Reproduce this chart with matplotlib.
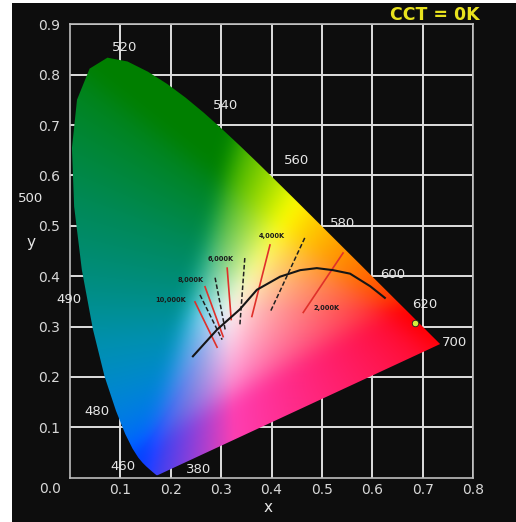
import numpy as np
import matplotlib
matplotlib.use("Agg")
import matplotlib.pyplot as plt
from matplotlib.patches import Polygon, Rectangle

# CIE 1931 spectral locus (nm, x, y)
wl = [380, 420, 440, 450, 455, 460, 465, 470, 475, 480, 485, 490, 495, 500, 505, 510, 515, 520,
      525, 530, 535, 540, 545, 550, 555, 560, 565, 570, 575, 580, 585, 590, 595, 600, 605, 610,
      615, 620, 625, 630, 640, 650, 660, 680, 700]
loc_x = [0.1741, 0.1714, 0.1644, 0.1566, 0.1510, 0.1440, 0.1355, 0.1241, 0.1096, 0.0913, 0.0687,
         0.0454, 0.0235, 0.0082, 0.0039, 0.0139, 0.0389, 0.0743, 0.1142, 0.1547, 0.1929, 0.2296,
         0.2658, 0.3016, 0.3373, 0.3731, 0.4087, 0.4441, 0.4788, 0.5125, 0.5448, 0.5752, 0.6029,
         0.6270, 0.6482, 0.6658, 0.6801, 0.6915, 0.7006, 0.7079, 0.7190, 0.7260, 0.7300, 0.7334,
         0.7347]
loc_y = [0.0050, 0.0051, 0.0109, 0.0177, 0.0227, 0.0297, 0.0399, 0.0578, 0.0868, 0.1327, 0.2007,
         0.2950, 0.4127, 0.5384, 0.6548, 0.7502, 0.8120, 0.8338, 0.8262, 0.8059, 0.7816, 0.7543,
         0.7243, 0.6923, 0.6589, 0.6245, 0.5896, 0.5547, 0.5202, 0.4866, 0.4544, 0.4242, 0.3965,
         0.3725, 0.3514, 0.3340, 0.3197, 0.3083, 0.2993, 0.2920, 0.2809, 0.2740, 0.2700, 0.2666,
         0.2653]

# wavelength labels (text, x, y)
wl_labels = ["520", "540", "560", "580", "600", "620", "700", "500", "490", "480", "460", "380"]
wl_lx = [0.109, 0.308, 0.450, 0.542, 0.641, 0.705, 0.764, -0.079, -0.003, 0.054, 0.105, 0.256]
wl_ly = [0.853, 0.738, 0.630, 0.505, 0.403, 0.343, 0.268, 0.555, 0.353, 0.132, 0.022, 0.016]

# Planckian locus
pl_x = [0.244, 0.292, 0.337, 0.371, 0.417, 0.457, 0.490, 0.522, 0.556, 0.596, 0.625]
pl_y = [0.241, 0.294, 0.334, 0.373, 0.399, 0.412, 0.416, 0.412, 0.405, 0.380, 0.357]

# iso-temperature segments: x0, y0, x1, y1
iso_red = [(0.248, 0.349, 0.292, 0.259), (0.268, 0.379, 0.304, 0.280), (0.312, 0.416, 0.320, 0.314),
           (0.397, 0.462, 0.361, 0.320), (0.542, 0.446, 0.463, 0.328)]
iso_blk = [(0.258, 0.363, 0.302, 0.274), (0.288, 0.397, 0.308, 0.294), (0.347, 0.436, 0.337, 0.300),
           (0.466, 0.476, 0.397, 0.328)]

cct_labels = ["10,000K", "8,000K", "6,000K", "4,000K", "2,000K"]
cct_x = [0.200, 0.240, 0.300, 0.400, 0.510]
cct_y = [0.353, 0.393, 0.434, 0.480, 0.337]

point_x, point_y = [0.684], [0.308]

xticks = [0.1, 0.2, 0.3, 0.4, 0.5, 0.6, 0.7, 0.8]
yticks = [0.1, 0.2, 0.3, 0.4, 0.5, 0.6, 0.7, 0.8, 0.9]


def box_blur(a, r, axis):
    pad = [(0, 0)] * a.ndim
    pad[axis] = (r + 1, r)
    p = np.pad(a, pad, mode="edge")
    c = np.cumsum(p, axis=axis)
    n = a.shape[axis]
    hi = np.take(c, np.arange(2 * r + 1, 2 * r + 1 + n), axis=axis)
    lo = np.take(c, np.arange(0, n), axis=axis)
    return (hi - lo) / (2 * r + 1)


W, H = 516, 522
fig = plt.figure(figsize=(W / 100, H / 100), dpi=100, facecolor="white")
fig.patches.append(Rectangle((12 / W, 0), 1 - 12 / W, 1 - 3 / H, transform=fig.transFigure,
                             facecolor="#0d0d0d", edgecolor="none", zorder=-10))

ax = fig.add_axes([70 / W, 1 - 479 / H, 403 / W, 456 / H])
ax.set_facecolor("#0d0d0d")
ax.set_xlim(0, 0.8)
ax.set_ylim(0, 0.9)
ax.set_xticks(xticks)
ax.set_yticks(yticks)
ax.set_xticklabels([f"{v:.1f}" for v in xticks])
ax.set_yticklabels([f"{v:.1f}" for v in yticks])
ax.tick_params(length=0, colors="#d8d8d8", labelsize=10, pad=4)
ax.tick_params(axis="y", pad=7)
ax.grid(True, color="#dedede", lw=1.4)
ax.set_axisbelow(True)
for s in ax.spines.values():
    s.set_color("#bdbdbd")
    s.set_linewidth(1.2)
ax.text(-0.04, -0.022, "0.0", color="#d8d8d8", fontsize=10, ha="center", va="center",
        clip_on=False)

# colour fill
n = 500
gx = np.linspace(-0.05, 0.8, n)
gy = np.linspace(-0.05, 0.9, n)
X, Y = np.meshgrid(gx, gy)
Xc = np.clip(X, 0.0, 0.74)
Yc = np.clip(Y, 0.004, 0.84)
XX = Xc / Yc
ZZ = np.clip(1 - Xc - Yc, 0, None) / Yc
M = np.array([[3.2406, -1.5372, -0.4986], [-0.9689, 1.8758, 0.0415], [0.0557, -0.2040, 1.0570]])
rgb = np.stack([XX, np.ones_like(XX), ZZ], -1) @ M.T
rgb = np.clip(rgb, 0, None)
rgb = rgb / rgb.max(axis=-1, keepdims=True)
rgb = rgb ** (1 / 2.2)
for _ in range(3):
    rgb = box_blur(rgb, 9, 0)
    rgb = box_blur(rgb, 9, 1)
R, G, B = rgb[..., 0].copy(), rgb[..., 1].copy(), rgb[..., 2].copy()
fac = 1 - 0.5 * (1 - R) * G
R, G, B = R * fac, G * fac, B * fac
# blue corner: less violet, a little more green
bl = np.clip(B - R, 0, 1) * (1 - G)
R2 = R * (1 - 0.75 * bl)
G2 = G + 0.25 * bl
# magenta: pinker
mg = np.clip(np.minimum(R, B) - G, 0, 1)
B2 = B * (1 - 0.3 * mg * R)
G2 = G2 + 0.25 * mg
# teal toward blue, strong greens less blue
cy = np.clip(np.minimum(G2, B2) - R2, 0, 1)
B2 = B2 * (1 + 0.35 * cy)
B2 = B2 * (1 - 0.7 * np.clip(G2 - B2 - 0.2, 0, 1))
rgb = np.clip(np.stack([R2, G2, B2], -1), 0, 1)
im = ax.imshow(rgb, origin="lower", extent=(-0.05, 0.8, -0.05, 0.9), interpolation="bilinear",
               zorder=2)
poly = Polygon(np.column_stack([loc_x, loc_y]), closed=True, transform=ax.transData,
               facecolor="none", edgecolor="none")
ax.add_patch(poly)
im.set_clip_path(poly)

# iso lines
for x0, y0, x1, y1 in iso_red:
    ax.plot([x0, x1], [y0, y1], color="#e0302a", lw=1.2, zorder=3)
for x0, y0, x1, y1 in iso_blk:
    ax.plot([x0, x1], [y0, y1], color="#202020", lw=1.1, ls=(0, (3, 1.5)), zorder=3)
ax.plot(pl_x, pl_y, color="#151515", lw=1.5, zorder=4)

for t, x, y in zip(cct_labels, cct_x, cct_y):
    ax.text(x, y, t, fontsize=4.8, color="#1a1a1a", ha="center", va="center", zorder=5,
            fontweight="bold")

ax.scatter(point_x, point_y, s=22, color="#d6f03c", edgecolor="#202020", lw=0.6, zorder=6)

for t, x, y in zip(wl_labels, wl_lx, wl_ly):
    ax.text(x, y, t, fontsize=9.5, color="#e6e6e6", ha="center", va="center", zorder=6,
            clip_on=False)

fig.text(268 / W, 1 - 508 / H, "x", color="#e6e6e6", fontsize=11, ha="center", va="center")
fig.text(31 / W, 1 - 243 / H, "y", color="#e6e6e6", fontsize=11, ha="center", va="center")
fig.text(435 / W, 1 - 15 / H, "CCT = 0K", color="#e8e21e", fontsize=12.5, fontweight="bold",
         ha="center", va="center")

fig.savefig("out.png", dpi=100, facecolor="white")
